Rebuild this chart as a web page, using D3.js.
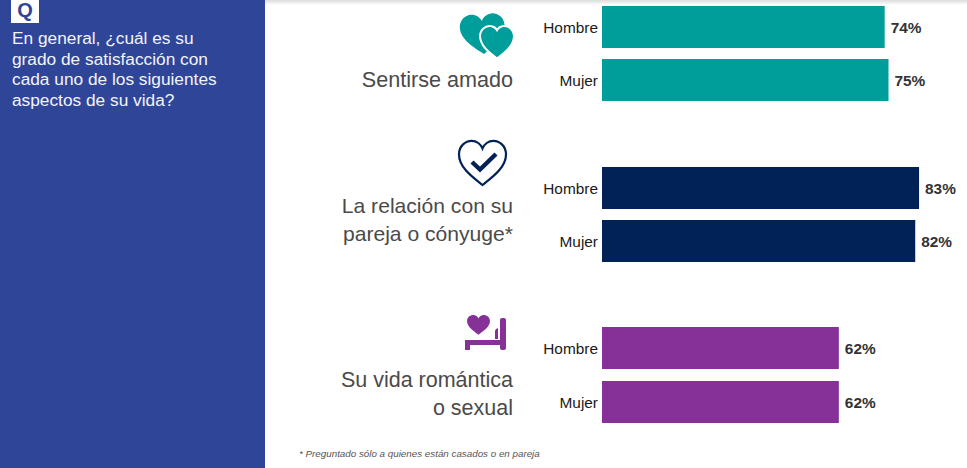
<!DOCTYPE html>
<html>
<head>
<meta charset="utf-8">
<script src="https://cdn.jsdelivr.net/npm/d3@7"></script>
<style>
  html, body { margin: 0; padding: 0; background: #fff; overflow: hidden; }
  svg { display: block; font-family: "Liberation Sans", Arial, sans-serif; }
</style>
</head>
<body>
<div id="chart"></div>
<script>
// aspects and answers
const aspects = ["amado", "pareja", "sexual"];
const aspect_labels = [
  ["Sentirse amado"],
  ["La relación con su", "pareja o cónyuge*"],
  ["Su vida romántica", "o sexual"],
];
const genders = ["Hombre", "Mujer"];
const hombre_values = [74, 83, 62];
const mujer_values = [75, 82, 62];
const aspect_colors = ["#009e9b", "#002257", "#853198"];
const question_lines = [
  "En general, ¿cuál es su",
  "grado de satisfacción con",
  "cada uno de los siguientes",
  "aspectos de su vida?",
];
const footnote = "* Preguntado sólo a quienes están casados o en pareja";

const width = 967;
const height = 468;
const bar_left = 602;

const svg = d3.select("#chart").append("svg")
  .attr("width", width)
  .attr("height", height)
  .attr("viewBox", `0 0 ${width} ${height}`);

// soft shadow along the top edge
const shadow = svg.append("defs").append("linearGradient")
  .attr("id", "top_shadow")
  .attr("x1", 0).attr("x2", 0).attr("y1", 0).attr("y2", 1);
shadow.append("stop").attr("offset", 0).attr("stop-color", "#dcdcdc");
shadow.append("stop").attr("offset", 1).attr("stop-color", "#ffffff");
svg.append("rect").attr("width", width).attr("height", 5).attr("fill", "url(#top_shadow)");

// question panel
svg.append("rect").attr("width", 265).attr("height", height).attr("fill", "#2f4598");
svg.append("rect").attr("x", 11).attr("y", 0).attr("width", 28).attr("height", 23).attr("fill", "#fff");
svg.append("text")
  .attr("x", 25).attr("y", 17)
  .attr("text-anchor", "middle")
  .attr("font-size", 20).attr("font-weight", 700)
  .attr("fill", "#2f4598")
  .text("Q");
svg.append("g").selectAll("text")
  .data(question_lines)
  .join("text")
  .attr("x", 12)
  .attr("y", (_, index) => 44 + index * 20.6)
  .attr("font-size", 17.3)
  .attr("fill", "#f2f4fa")
  .text((line) => line);

// scales
const x = d3.scaleLinear().domain([0, 100]).range([bar_left, bar_left + 382]);
const y_group = d3.scalePoint().domain(aspects).range([6, 327.4]);
const y_gender = d3.scaleBand().domain(genders).range([0, 95.4]).paddingInner(0.2135);

const rows = aspects.flatMap((aspect, index) => [
  { aspect, index, gender: "Hombre", value: hombre_values[index] },
  { aspect, index, gender: "Mujer", value: mujer_values[index] },
]);
const row_top = (row) => Math.round(y_group(row.aspect) + y_gender(row.gender));
const row_middle = (row) => row_top(row) + 21;

svg.append("g").selectAll("rect")
  .data(rows)
  .join("rect")
  .attr("x", x(0))
  .attr("y", row_top)
  .attr("width", (row) => x(row.value) - x(0))
  .attr("height", y_gender.bandwidth())
  .attr("fill", (row) => aspect_colors[row.index]);

svg.append("g").selectAll("text")
  .data(rows)
  .join("text")
  .attr("x", 598)
  .attr("y", (row) => row_middle(row) + 5.5)
  .attr("text-anchor", "end")
  .attr("font-size", 15.4)
  .attr("fill", "#1a1a1a")
  .text((row) => row.gender);

svg.append("g").selectAll("text")
  .data(rows)
  .join("text")
  .attr("x", (row) => x(row.value) + 6)
  .attr("y", (row) => row_middle(row) + 5.5)
  .attr("font-size", 15.4)
  .attr("font-weight", 700)
  .attr("fill", "#333")
  .text((row) => `${row.value}%`);

// aspect names, right aligned next to the bars
const label_first_baseline = [87, 213, 387];
const label_font_sizes = [21.6, 21.1, 21.5];
aspect_labels.forEach((lines, index) => {
  svg.append("g").selectAll("text")
    .data(lines)
    .join("text")
    .attr("x", 513)
    .attr("y", (_, line) => label_first_baseline[index] + line * 28)
    .attr("text-anchor", "end")
    .attr("font-size", label_font_sizes[index])
    .attr("fill", "#4a4a4a")
    .text((line) => line);
});

// icons
const heart = "M0 30 C-10 22 -28 10 -28 -6 C-28 -16 -20 -22 -13 -22 C-7 -22 -2 -18 0 -13 C2 -18 7 -22 13 -22 C20 -22 28 -16 28 -6 C28 10 10 22 0 30 Z";
const hearts = svg.append("g").attr("fill", aspect_colors[0]);
hearts.append("path").attr("d", heart).attr("transform", "translate(482.5,31) rotate(-4) scale(0.8,0.77)");
hearts.append("path").attr("d", heart).attr("transform", "translate(497,39.8) scale(0.57,0.58)")
  .attr("stroke", "#fff").attr("stroke-width", 7).attr("paint-order", "stroke");

const check = svg.append("g").attr("fill", "none").attr("stroke", aspect_colors[1]);
check.append("path").attr("d", heart).attr("transform", "translate(482.5,159.5) scale(0.84,0.85)")
  .attr("stroke-width", 2.2).attr("vector-effect", "non-scaling-stroke");
check.append("path").attr("d", "M472 162 L480 169.5 L496 154").attr("stroke-width", 4.4);

const bed = svg.append("g").attr("fill", aspect_colors[2]);
bed.append("path").attr("d", heart).attr("transform", "translate(478.5,323.4) scale(0.41,0.38)");
bed.append("rect").attr("x", 465).attr("y", 340).attr("width", 41).attr("height", 5);
bed.append("rect").attr("x", 465).attr("y", 340).attr("width", 5).attr("height", 10);
bed.append("rect").attr("x", 500).attr("y", 318).attr("width", 6).attr("height", 32).attr("rx", 2);
bed.append("path").attr("d", "M495 339 L495 331 Q495 329 498 328 L498 339 Z");

svg.append("text")
  .attr("x", 299).attr("y", 457)
  .attr("font-size", 9.8)
  .attr("font-style", "italic")
  .attr("fill", "#555")
  .text(footnote);
</script>
</body>
</html>
